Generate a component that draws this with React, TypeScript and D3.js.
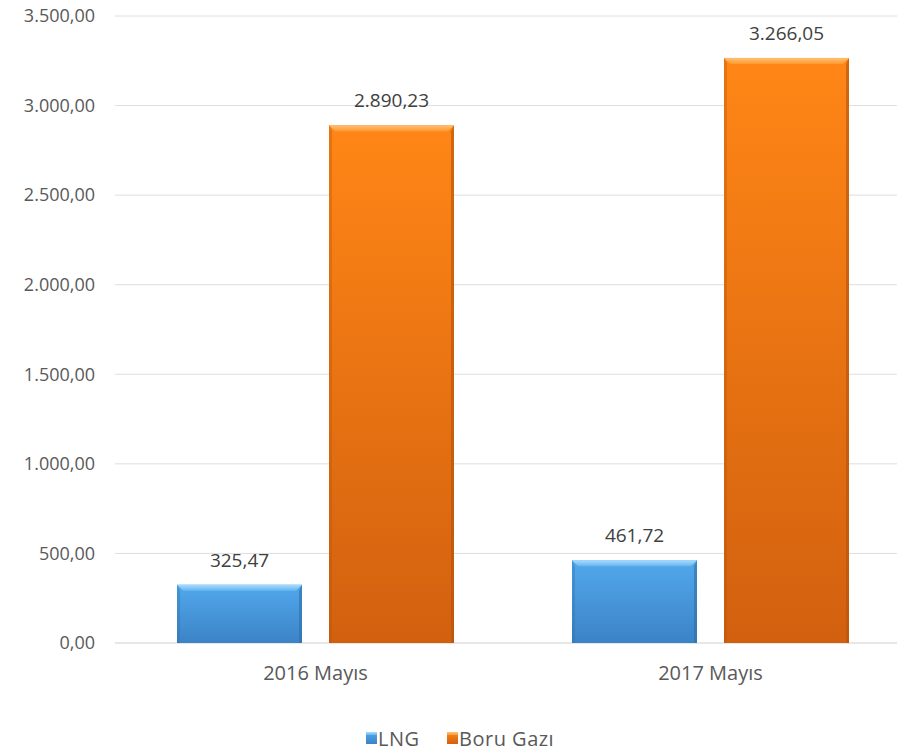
import { scaleBand, scaleLinear } from "d3";

const categories = ["2016 Mayıs", "2017 Mayıs"];
const seriesNames = ["LNG", "Boru Gazı"];
const lngValues = [325.47, 461.72];
const boruValues = [2890.23, 3266.05];
const yTicks = [0, 500, 1000, 1500, 2000, 2500, 3000, 3500];

const fmt = (v: number) =>
  v.toLocaleString("de-DE", { minimumFractionDigits: 2, maximumFractionDigits: 2 });

const font = "'Open Sans', 'DejaVu Sans', sans-serif";

export default function App() {
  const width = 897;
  const height = 753;
  const left = 118;
  const right = 908;
  const top = 16;
  const bottom = 643;

  const x = scaleBand().domain(categories).range([left, right]).paddingInner(0).paddingOuter(0);
  const y = scaleLinear().domain([0, 3500]).range([bottom, top]);
  const barW = 125;
  const gap = 27;
  const groupW = barW * 2 + gap;

  const series = [
    { name: seriesNames[0], values: lngValues, id: "blue" },
    { name: seriesNames[1], values: boruValues, id: "orange" },
  ];

  const bevel = 6;

  return (
    <svg
      width={width}
      height={height}
      style={{ position: "absolute", left: 0, top: 0, background: "#fff" }}
    >
      <defs>
        <linearGradient id="g-blue" x1="0" y1="0" x2="0" y2="1">
          <stop offset="0" stopColor="#52a8ec" />
          <stop offset="1" stopColor="#3b83c6" />
        </linearGradient>
        <linearGradient id="g-orange" x1="0" y1="0" x2="0" y2="1">
          <stop offset="0" stopColor="#ff8616" />
          <stop offset="1" stopColor="#d2600f" />
        </linearGradient>
        <linearGradient id="t-blue" x1="0" y1="0" x2="0" y2="1">
          <stop offset="0" stopColor="#a9dcff" />
          <stop offset="1" stopColor="#62b6f0" />
        </linearGradient>
        <linearGradient id="t-orange" x1="0" y1="0" x2="0" y2="1">
          <stop offset="0" stopColor="#ffc078" />
          <stop offset="1" stopColor="#ff9a30" />
        </linearGradient>
      </defs>

      {yTicks.map((t) => (
        <g key={t}>
          <line x1={115} x2={width} y1={y(t)} y2={y(t)} stroke={t === 0 ? "#cfcfcf" : "#dedede"} strokeWidth={1} />
          <text
            x={95}
            y={y(t)}
            dy="0.35em"
            textAnchor="end"
            fontFamily={font}
            fontSize={18}
            fill="#595959"
          >
            {fmt(t)}
          </text>
        </g>
      ))}

      {categories.map((c, ci) => {
        const x0 = (x(c) ?? 0) + (x.bandwidth() - groupW) / 2;
        return (
          <g key={c}>
            {series.map((s, si) => {
              const bx = x0 + si * (barW + gap);
              const by = y(s.values[ci]);
              const bh = bottom - by;
              const dark = s.id === "blue" ? "#2f6fa8" : "#b4520c";
              return (
                <g key={s.name}>
                  <rect x={bx} y={by} width={barW} height={bh} fill={`url(#g-${s.id})`} />
                  <polygon
                    points={`${bx},${by} ${bx + barW},${by} ${bx + barW - bevel},${by + bevel} ${bx + bevel},${by + bevel}`}
                    fill={`url(#t-${s.id})`}
                  />
                  <polygon
                    points={`${bx},${by} ${bx + bevel * 0.5},${by + bevel} ${bx + bevel * 0.5},${bottom} ${bx},${bottom}`}
                    fill={dark}
                    opacity={0.35}
                  />
                  <polygon
                    points={`${bx + barW},${by} ${bx + barW - bevel * 0.5},${by + bevel} ${bx + barW - bevel * 0.5},${bottom} ${bx + barW},${bottom}`}
                    fill={dark}
                    opacity={0.6}
                  />
                  <text
                    x={bx + barW / 2}
                    y={by - 18}
                    textAnchor="middle"
                    fontFamily={font}
                    fontSize={19}
                    fill="#404040"
                  >
                    {fmt(s.values[ci])}
                  </text>
                </g>
              );
            })}
            <text
              x={(x(c) ?? 0) + x.bandwidth() / 2}
              y={680}
              textAnchor="middle"
              fontFamily={font}
              fontSize={20}
              fill="#595959"
            >
              {c}
            </text>
          </g>
        );
      })}

      <g>
        {series.map((s, i) => {
          const lx = i === 0 ? 366 : 447;
          return (
            <g key={s.name}>
              <rect x={lx} y={732} width={11} height={12} fill={`url(#g-${s.id})`} />
              <rect x={lx} y={732} width={11} height={3} fill={`url(#t-${s.id})`} />
              <text x={lx + 12} y={746} fontFamily={font} fontSize={20} letterSpacing={0.5} fill="#595959">
                {s.name}
              </text>
            </g>
          );
        })}
      </g>
    </svg>
  );
}
